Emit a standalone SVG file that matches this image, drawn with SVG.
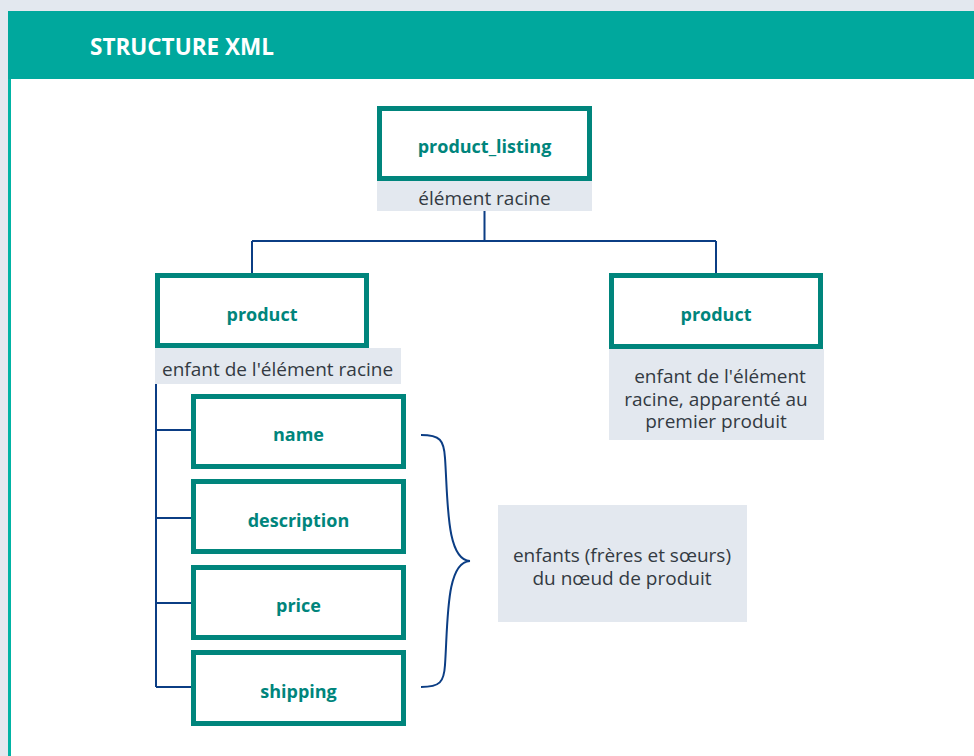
<svg xmlns="http://www.w3.org/2000/svg" width="974" height="756" viewBox="0 0 974 756">
<style>
.box{fill:#fff;stroke:#00857c;stroke-width:5}
.lbl{fill:#e3e8ef}
.bt{font-family:"Open Sans","Noto Sans",sans-serif;font-weight:bold;font-size:18px;fill:#00857c;text-anchor:middle}
.t{font-family:"Open Sans","Noto Sans",sans-serif;font-size:19px;fill:#333a42}
.c{fill:none;stroke:#0b3d84;stroke-width:2}
</style>
<rect x="0" y="0" width="974" height="756" fill="#e3e8ef"/>
<rect x="8" y="11" width="966" height="745" fill="#fff"/>
<rect x="8" y="11" width="3" height="745" fill="#00b3a4"/>
<rect x="8" y="11" width="966" height="68" fill="#00a89d"/>
<text x="90" y="55" font-family="'Open Sans','Noto Sans',sans-serif" font-weight="bold" font-size="22.5" fill="#fff">STRUCTURE XML</text>
<g id="connectors">
<path class="c" d="M484.5 211V241M252 241H716M252 241V274M716 241V274"/>
<path class="c" d="M156 384V687M156 430H192M156 518H192M156 603H192M156 687H192"/>
<path class="c" d="M421 435C440 435 444 440 445 458C448 500 446 560 470 561C446 562 448 620 445 665C444 682 440 687 421 687"/>
</g>
<g id="root">
<rect class="box" x="379.5" y="108.5" width="210" height="70"/>
<text class="bt" x="484.5" y="153">product_listing</text>
<rect class="lbl" x="377" y="181" width="215" height="30"/>
<text class="t" x="484.5" y="205" text-anchor="middle">élément racine</text>
</g>
<g id="product1">
<rect class="box" x="157.5" y="275.5" width="209" height="70"/>
<text class="bt" x="262" y="321">product</text>
<rect class="lbl" x="155" y="348" width="246" height="36"/>
<text class="t" x="162" y="376">enfant de l'élément racine</text>
</g>
<g id="product2">
<rect class="box" x="611.5" y="275.5" width="209" height="71"/>
<text class="bt" x="716" y="321">product</text>
<rect class="lbl" x="609" y="349" width="215" height="91"/>
<text class="t" x="717" y="383" text-anchor="middle"><tspan x="720">enfant de l'élément</tspan><tspan x="716" dy="22.5">racine, apparenté au</tspan><tspan x="716" dy="22.5">premier produit</tspan></text>
</g>
<g id="name">
<rect class="box" x="193.5" y="396.5" width="210" height="70"/>
<text class="bt" x="298.5" y="441">name</text>
</g>
<g id="description">
<rect class="box" x="193.5" y="481.5" width="210" height="70"/>
<text class="bt" x="298.5" y="527">description</text>
</g>
<g id="price">
<rect class="box" x="193.5" y="567.5" width="210" height="70"/>
<text class="bt" x="298.5" y="612">price</text>
</g>
<g id="shipping">
<rect class="box" x="193.5" y="652.5" width="210" height="71"/>
<text class="bt" x="298.5" y="698">shipping</text>
</g>
<g id="note">
<rect class="lbl" x="498" y="505" width="249" height="117"/>
<text class="t" x="622" y="562" text-anchor="middle" font-size="18"><tspan x="622">enfants (frères et sœurs)</tspan><tspan x="622" dy="23">du nœud de produit</tspan></text>
</g>
</svg>
